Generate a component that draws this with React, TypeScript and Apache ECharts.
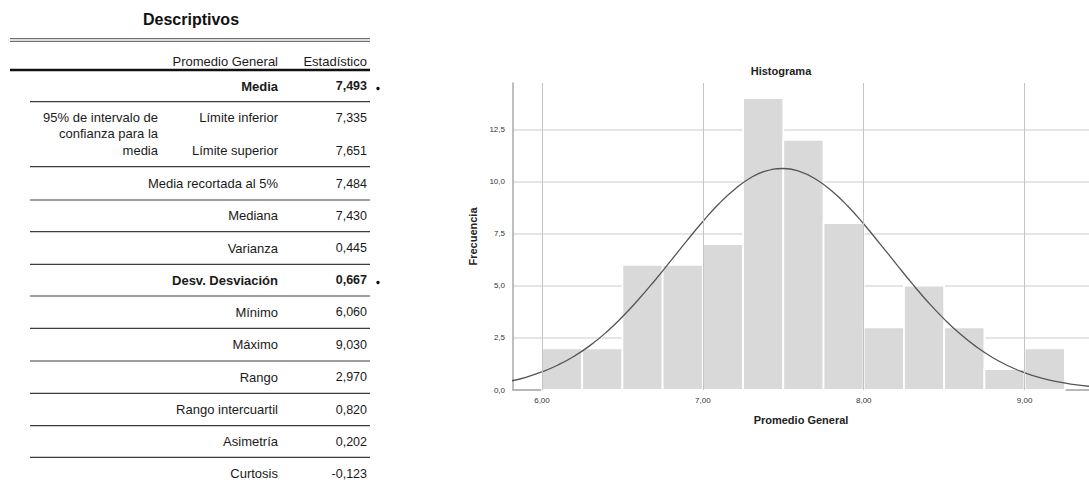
import { useEffect, useRef } from "react";
import * as echarts from "echarts";

// ---------- Table data ----------
const tableTitle = "Descriptivos";
const headerVariable = "Promedio General";
const headerStatistic = "Estadístico";
const ciGroupLabel = ["95% de intervalo de", "confianza para la", "media"];
const statLabels = [
  "Media",
  "Límite inferior",
  "Límite superior",
  "Media recortada al 5%",
  "Mediana",
  "Varianza",
  "Desv. Desviación",
  "Mínimo",
  "Máximo",
  "Rango",
  "Rango intercuartil",
  "Asimetría",
  "Curtosis",
];
const statValues = [
  "7,493",
  "7,335",
  "7,651",
  "7,484",
  "7,430",
  "0,445",
  "0,667",
  "6,060",
  "9,030",
  "2,970",
  "0,820",
  "0,202",
  "-0,123",
];
const boldStats = ["Media", "Desv. Desviación"];

// ---------- Histogram data ----------
const histTitle = "Histograma";
const xName = "Promedio General";
const yName = "Frecuencia";
const binLower = [6.0, 6.25, 6.5, 6.75, 7.0, 7.25, 7.5, 7.75, 8.0, 8.25, 8.5, 8.75, 9.0];
const binUpper = [6.25, 6.5, 6.75, 7.0, 7.25, 7.5, 7.75, 8.0, 8.25, 8.5, 8.75, 9.0, 9.25];
const frequencies = [2, 2, 6, 6, 7, 14, 12, 8, 3, 5, 3, 1, 2];
const curveX = [
  5.8, 5.9, 6.0, 6.1, 6.2, 6.3, 6.4, 6.5, 6.6, 6.7, 6.8, 6.9, 7.0, 7.1, 7.2, 7.3, 7.4, 7.5,
  7.6, 7.7, 7.8, 7.9, 8.0, 8.1, 8.2, 8.3, 8.4, 8.5, 8.6, 8.7, 8.8, 8.9, 9.0, 9.1, 9.2, 9.3, 9.4,
];
const curveY = [
  0.42, 0.61, 0.87, 1.2, 1.62, 2.14, 2.77, 3.51, 4.34, 5.24, 6.19, 7.15, 8.08, 8.93, 9.64,
  10.19, 10.52, 10.62, 10.48, 10.12, 9.55, 8.82, 7.96, 7.02, 6.06, 5.11, 4.21, 3.4, 2.68, 2.07,
  1.56, 1.15, 0.83, 0.58, 0.4, 0.27, 0.18,
];
const xLabelValues = [6, 7, 8, 9];
const yTickLabels = [0, 2.5, 5, 7.5, 10, 12.5];

// ---------- Layout ----------
const FONT = '"Liberation Sans", Arial, sans-serif';
const rowY = [86, 117.5, 150.5, 183.5, 215.8, 248, 280, 312.2, 344.7, 377, 409.5, 441.5, 473.8];
const ciY = [117, 133.5, 150];
const bodyLineY = [101.7, 166.7, 200, 231.7, 264.3, 296, 328.3, 361, 393.3, 425.7, 457.3];

function txt(text: string, x: number, y: number, size: number, align: string, bold = false, color = "#1a1a1a") {
  return {
    type: "text",
    x,
    y,
    silent: true,
    style: {
      text,
      fill: color,
      fontSize: size,
      fontFamily: FONT,
      fontWeight: bold ? "bold" : "normal",
      align,
      verticalAlign: "middle",
    },
  };
}

function hline(x1: number, x2: number, y: number, color: string, width: number) {
  return {
    type: "line",
    silent: true,
    shape: { x1, y1: y, x2, y2: y },
    style: { stroke: color, lineWidth: width },
  };
}

export default function App() {
  const ref = useRef<HTMLDivElement>(null);

  useEffect(() => {
    document.body.style.margin = "0";
    if (!ref.current) return;
    const chart = echarts.init(ref.current, null, { renderer: "svg" });

    const graphics: any[] = [];
    graphics.push(txt(tableTitle, 191, 19, 16, "center", true, "#111"));
    graphics.push(hline(10, 370, 38.6, "#707070", 1.3));
    graphics.push(hline(10, 370, 41.4, "#707070", 1.3));
    graphics.push(txt(headerVariable, 278, 61.5, 13, "right"));
    graphics.push(txt(headerStatistic, 367, 61.5, 13, "right"));
    graphics.push(hline(10, 370, 70, "#111", 2.6));
    ciGroupLabel.forEach((t, i) => graphics.push(txt(t, 158, ciY[i], 13, "right")));
    statLabels.forEach((label, i) => {
      const bold = boldStats.includes(label);
      graphics.push(txt(label, 278, rowY[i], 13, "right", bold));
      graphics.push(txt(statValues[i], 367, rowY[i], 12.5, "right", bold));
      if (bold) {
        graphics.push({
          type: "circle",
          silent: true,
          shape: { cx: 378, cy: rowY[i] + 2.5, r: 1.7 },
          style: { fill: "#111" },
        });
      }
    });
    bodyLineY.forEach((y) => graphics.push(hline(30, 370, y, "#3c3c3c", 1.2)));
    graphics.push(txt(histTitle, 781, 71, 11, "center", true, "#222"));

    const fmtY = (v: number) =>
      yTickLabels.some((t) => Math.abs(t - v) < 1e-6) ? v.toFixed(1).replace(".", ",") : "";
    const fmtX = (v: number) =>
      xLabelValues.some((t) => Math.abs(t - v) < 1e-6) ? v.toFixed(2).replace(".", ",") : "";

    chart.setOption({
      animation: false,
      backgroundColor: "#ffffff",
      textStyle: { fontFamily: FONT },
      grid: {
        left: 513,
        right: 0,
        top: 83,
        bottom: 95,
        containLabel: false,
        outerBoundsMode: "none",
      },
      xAxis: {
        type: "value",
        min: 5.82,
        max: 9.4,
        name: xName,
        nameLocation: "middle",
        nameGap: 24,
        nameTextStyle: { fontSize: 11, fontWeight: "bold", fontFamily: FONT, color: "#222" },
        axisLine: { show: true, lineStyle: { color: "#a8a8a8", width: 1.5 } },
        axisTick: { show: false },
        axisLabel: {
          customValues: xLabelValues,
          fontSize: 8,
          color: "#333",
          margin: 6,
          fontFamily: FONT,
          formatter: fmtX,
        },
        splitLine: { show: false },
      },
      yAxis: {
        type: "value",
        min: 0,
        max: 14.72,
        interval: 2.5,
        name: yName,
        nameLocation: "middle",
        nameGap: 27,
        nameTextStyle: { fontSize: 11, fontWeight: "bold", fontFamily: FONT, color: "#222" },
        axisLine: { show: true, lineStyle: { color: "#a8a8a8", width: 1.5 } },
        axisTick: { show: false },
        axisLabel: { fontSize: 8, color: "#333", margin: 8, fontFamily: FONT, formatter: fmtY },
        splitLine: {
          show: true,
          showMaxLine: false,
          lineStyle: { color: "#dcdcdc", width: 1.5 },
        },
      },
      graphic: graphics,
      series: [
        {
          type: "custom",
          z: 2,
          silent: true,
          data: binLower.map((lo, i) => [lo, binUpper[i], frequencies[i]]),
          encode: { x: [0, 1], y: 2 },
          renderItem: (_params: any, api: any) => {
            const p0 = api.coord([api.value(0), api.value(2)]);
            const p1 = api.coord([api.value(1), 0]);
            return {
              type: "rect",
              shape: { x: p0[0], y: p0[1], width: p1[0] - p0[0], height: p1[1] - p0[1] },
              style: { fill: "#d9d9d9", stroke: "#ffffff", lineWidth: 1.8 },
            };
          },
        },
        {
          type: "line",
          z: 3,
          silent: true,
          smooth: true,
          showSymbol: false,
          clip: true,
          data: curveX.map((x, i) => [x, curveY[i]]),
          lineStyle: { color: "#555555", width: 1.3 },
          markLine: {
            silent: true,
            symbol: ["none", "none"],
            label: { show: false },
            lineStyle: { type: "solid", color: "#c4c4c4", width: 1 },
            data: xLabelValues.map((v) => ({ xAxis: v })),
          },
        },
      ],
    });

    return () => chart.dispose();
  }, []);

  return <div ref={ref} style={{ width: 1089, height: 485 }} />;
}
